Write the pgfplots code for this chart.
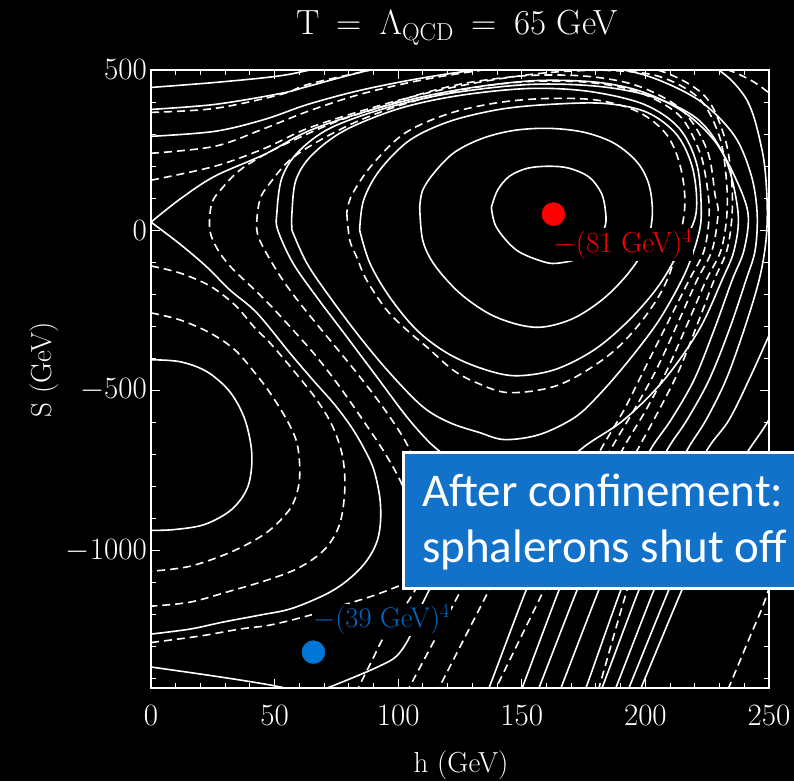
\RequirePackage{fix-cm}
\documentclass[border=0pt]{standalone}
\usepackage{fontspec}
\usepackage{pgfplots}
\pgfplotsset{compat=1.18}
\newfontfamily\carlito{Carlito}
\definecolor{boxblue}{RGB}{18,113,200}
\definecolor{dotblue}{RGB}{0,118,215}
\definecolor{labblue}{RGB}{0,105,200}
\pgfplotsset{
  cl/.style={white, line width=1.6pt, smooth, tension=0.55, no markers},
  cd/.style={cl, dash pattern=on 8pt off 5pt},
}
\begin{document}
\begin{tikzpicture}[x=1pt,y=1pt]
  \fill[black] (0,0) rectangle (794,781);
  \begin{axis}[
      at={(151pt,93pt)}, anchor=south west,
      scale only axis, width=618pt, height=618pt,
      xmin=0, xmax=250, ymin=-1430, ymax=500,
      axis line style={white, line width=1.2pt},
      tick style={white, line width=1pt},
      major tick length=9pt, minor tick length=5pt,
      tick align=inside,
      xtick={0,50,...,250}, ytick={-1500,-1000,-500,0,500},
      minor x tick num=4, minor y tick num=4,
      scaled ticks=false,
      /pgf/number format/1000 sep={},
      ticklabel style={white, font=\fontsize{31}{36}\selectfont},
      xticklabel style={inner sep=0pt, yshift=-17pt},
      yticklabel style={inner sep=0pt, xshift=-4pt},
    ]
    % closed loops round the red minimum
    \addplot[cl] coordinates {(137.7,71.6)(139.7,9.3)(147.8,-62.3)(159.1,-99.7)(165.2,-102.8)(173.3,-87.2)(180.5,-40.5)(183.8,15.6)(183.8,62.3)(182.2,115.3)(177.3,165.1)(169.2,193.1)(161.2,199.4)(152.3,193.1)(145,168.2)(140.2,124.6)(137.7,71.6)};
    \addplot[cl] coordinates {(108.7,71.6)(109.9,-31.2)(114.7,-109)(124.8,-196.2)(136.9,-261.7)(149,-295.9)(159.1,-302.2)(171.3,-274.1)(183.4,-211.8)(193.5,-130.8)(200.3,-46.7)(202.8,46.7)(201.5,140.2)(196.7,211.8)(187.4,271)(175.3,305.3)(161.2,317.7)(147,311.5)(134.1,286.6)(122.8,243)(114.7,180.7)(109.9,124.6)(108.7,71.6)};
    \addplot[cl] coordinates {(84.4,0)(88.5,-102.8)(96.5,-208.7)(107.4,-311.5)(119.6,-383.2)(132.9,-429.9)(147,-454.8)(163.2,-436.1)(179.3,-373.8)(193.5,-280.4)(205.6,-171.3)(214.9,-46.7)(220.5,53)(219.3,186.9)(212.9,295.9)(200.7,367.6)(183.4,395.6)(161.2,392.5)(141,376.9)(120.8,339.5)(104.6,280.4)(92.5,186.9)(86,93.5)(84.4,0)};
    \addplot[cd] coordinates {(79.2,53)(80.4,-31.2)(83.2,-84.1)(87.2,-155.8)(95.3,-249.2)(103.4,-311.5)(111.5,-364.5)(122,-436.1)(131.7,-476.6)(145,-507.7)(165.2,-482.8)(185.4,-389.4)(199.5,-274.1)(209.6,-140.2)(215.7,53)(214.5,186.9)(208.8,295.9)(197.5,367.6)(181.3,405)(161.2,411.2)(141,398.7)(120.8,364.5)(102.6,302.2)(89.3,202.5)(81.2,109)(79.2,53)};
    \addplot[cl] coordinates {(57,0)(63,-102.8)(72.3,-208.7)(84.4,-333.3)(96.5,-445.5)(109.9,-551.4)(120.8,-601.2)(132.9,-632.3)(143,-654.2)(157.1,-638.6)(171.3,-585.6)(181.3,-514)(193.5,-405)(205.6,-280.4)(215.7,-140.2)(220.9,-31.2)(222.6,53)(220.9,202.5)(213.7,317.7)(199.5,392.5)(177.3,433)(153.1,442.3)(124.8,420.5)(100.6,380)(78.4,311.5)(65,233.6)(58.6,155.8)(57,53)(57,0)};
    % separatrix through the saddle at h = 0
    \addplot[cl] coordinates {(0,24.9)(11.7,-43.6)(22.6,-115.3)(31.9,-186.9)(42.8,-258.5)(56.1,-383.2)(65.4,-467.3)(74.3,-545.1)(81.2,-616.8)(86.4,-685.3)(90.1,-747.6)(92.5,-831.7)(92.9,-903.4)(91.7,-965.7)(88.5,-1018.6)(83.6,-1065.3)(76.3,-1112.1)(68.3,-1146.3)(56.1,-1183.7)(44,-1202.4)(29.1,-1224.2)(15.8,-1246)(0,-1261.6)};
    \addplot[cl] coordinates {(0,24.9)(11.7,96.6)(25.8,168.2)(46,236.7)(63.4,308.4)(84.4,364.5)(108.6,414.3)(132.9,448.6)(157.1,467.3)(181.3,461)(199.5,429.9)(215.7,367.6)(227.8,280.4)(235.9,171.3)(241.5,53)(239.9,-62.3)(235.1,-155.8)(227.8,-311.5)(219.7,-467.3)(210.4,-591.9)(202.8,-676)(195.5,-778.8)(188.2,-872.2)};
    % left bowl and the dashed lines round it
    \addplot[cl] coordinates {(0,-405)(11.7,-411)(22.6,-442)(31.9,-505)(38,-592)(40.8,-701)(39.2,-801)(32.7,-872)(21.8,-919)(9.7,-935)(0,-938)};
    \addplot[cd] coordinates {(0,-258.5)(11.7,-280.4)(23.8,-320.8)(33.9,-373.8)(42,-445.5)(48.1,-507.7)(54.9,-591.9)(59,-663.5)(60.2,-747.6)(59.4,-809.9)(56.1,-872.2)(46.9,-943.8)(33.1,-1003)(15.8,-1049.8)(0,-1065.3)};
    \addplot[cd] coordinates {(0,-112.1)(11.7,-134)(23.8,-174.4)(33.9,-233.6)(42,-305.3)(48.1,-352)(57.4,-436.1)(67,-529.6)(73.5,-613.7)(77.5,-707.1)(78.4,-809.9)(76.3,-918.9)(70.3,-996.8)(60.2,-1053)(48.1,-1090.3)(31.9,-1127.6)(15.8,-1161.9)(0,-1174.4)};
    % open lines round the red basin
    \addplot[cd] coordinates {(105.4,-872.2)(100.6,-778.8)(93.7,-685.3)(85.6,-591.9)(76.3,-489)(67,-395.6)(57.4,-311.5)(48.1,-233.6)(42,-186.9)(32.7,-118.4)(27.1,-62.3)(23.8,0)(24.6,84.1)(29.1,133.9)(35.9,186.9)(46.9,239.9)(60.2,289.7)(76.3,342.7)(92.5,383.1)(109.9,426.8)(128.8,461)(153.1,482.8)(177.3,479.7)(197.5,448.6)(214.9,373.8)(225,249.2)(228.2,109)(229.4,53)(227,-62.3)(220.9,-155.8)(213.7,-280.4)(204.4,-436.1)(195.5,-560.7)(186.6,-676)(179.3,-778.8)(173.3,-872.2)};
    \addplot[cd] coordinates {(114.7,-903.4)(110.7,-809.9)(105.8,-707.1)(101.8,-644.8)(93.7,-551.4)(83.2,-445.5)(72.3,-342.7)(61.4,-239.9)(53.3,-155.8)(46,-62.3)(42.8,0)(44,93.5)(48.1,146.4)(56.1,218.1)(68.3,280.4)(84.4,342.7)(104.6,398.7)(128.8,442.3)(153.1,464.1)(177.3,461)(197.5,429.9)(213.7,358.2)(221.7,249.2)(224.6,155.8)(225.8,53)(223.8,-62.3)(217.7,-155.8)(209.6,-280.4)(199.5,-436.1)(191.4,-560.7)(182.6,-676)(175.3,-778.8)(169.2,-872.2)};
    \addplot[cl] coordinates {(128.8,-778.8)(120.8,-716.5)(112.7,-663.5)(103.4,-582.5)(91.3,-457.9)(79.2,-333.3)(67,-208.7)(57.4,-102.8)(51.3,0)(50.9,53)(52.9,162)(59.4,243)(72.3,317.7)(94.5,380)(120.8,426.8)(153.1,454.8)(181.3,448.6)(203.6,414.3)(221.7,342.7)(232.6,218.1)(237.5,53)(235.9,-62.3)(231,-155.8)(221.7,-311.5)(207.6,-467.3)(191.4,-591.9)(175.3,-676)(163.2,-763.2)(153.1,-872.2)};
    \addplot[cd] coordinates {(0,155.8)(25.8,199.4)(46,255.4)(63.4,317.7)(88.5,380)(112.7,429.9)(136.9,467.3)(161.2,492.2)(185.4,498.4)(205.6,479.7)(221.7,411.2)(229.8,295.9)(232.6,171.3)(233,53)(230.6,-62.3)(224.6,-155.8)(217.7,-280.4)(208.8,-436.1)(200.3,-560.7)(191.4,-676)(184.6,-778.8)(178.5,-872.2)};
    \addplot[cd] coordinates {(0,239.9)(25.8,261.7)(46,317.7)(63.4,370.7)(84.4,423.6)(108.6,467.3)(132.9,498.4)(157.1,520.2)(181.3,523.3)(205.6,498.4)(223.8,420.5)(231.8,295.9)(234.7,171.3)(235.1,53)(233,-62.3)(227.8,-155.8)(221.7,-280.4)(213.7,-436.1)(205.6,-560.7)(197.5,-676)(190.2,-778.8)(184.2,-872.2)};
    \addplot[cl] coordinates {(0,292.8)(25.8,308.4)(46,345.8)(63.4,392.5)(84.4,436.1)(108.6,473.5)(132.9,501.5)(157.1,517.1)(181.3,510.9)(201.5,479.7)(221.7,405)(235.9,295.9)(242.8,171.3)(245.2,53)(244.4,-62.3)(240.7,-155.8)(233.9,-311.5)(225.8,-467.3)(216.9,-591.9)(209.6,-676)(202.4,-778.8)(195.5,-872.2)};
    \addplot[cl] coordinates {(0,376.9)(25.8,392.5)(52.5,426.8)(63.4,448.6)(84.4,492.2)(108.6,535.8)(141,570)(181.3,576.3)(221.7,529.6)(239.9,420.5)(247.2,249.2)(249.2,93.5)(248.8,-31.2)(246,-155.8)(239.9,-311.5)(232.6,-467.3)(224.6,-591.9)(217.7,-676)(210.4,-778.8)(203.6,-872.2)};
    \addplot[cd] coordinates {(0,367.6)(25.8,380)(52.5,423.6)(63.4,454.8)(84.4,492.2)(108.6,529.6)(141,560.7)(181.3,566.9)(217.7,535.8)(246,451.7)(264.1,280.4)(270.2,-62.3)(268.2,-373.8)(262.1,-685.3)(256.1,-934.5)(249.2,-1137)(241.9,-1277.2)(231.8,-1464)};
    \addplot[cl] coordinates {(0,445.5)(25.8,461)(50.1,479.7)(63.4,498.4)(84.4,535.8)(120.8,591.9)(165.2,623)(213.7,607.4)(254.1,498.4)(264,200)(262.1,-62.3)(256.1,-218.1)(249.2,-342.7)(241.9,-467.3)(233.9,-591.9)(225.8,-676)(218.5,-778.8)(211.6,-872.2)};
    \addplot[cl] coordinates {(275,-100)(266.2,-311.5)(258.1,-467.3)(250,-591.9)(241.9,-685.3)(233.9,-778.8)(226.6,-872.2)};
    % below the box
    \addplot[cl] coordinates {(118.7,-1028)(112.7,-1121.4)(107.8,-1199.3)(104.6,-1270.9)(99.4,-1330.1)(92.5,-1361.3)(80.4,-1401.8)(68.3,-1439.1)};
    \addplot[cd] coordinates {(110.7,-1074.7)(104.6,-1152.6)(98.6,-1221.1)(93.7,-1277.2)(89.7,-1339.5)(83.2,-1439.1)};
    \addplot[cl] coordinates {(157.5,-1028)(151.9,-1121.4)(136.9,-1426.7)(134.9,-1464)};
    \addplot[cl] coordinates {(170.8,-1028)(165.2,-1121.4)(150.3,-1426.7)(148.2,-1464)};
    \addplot[cl] coordinates {(178.1,-1028)(172.5,-1121.4)(157.1,-1426.7)(155.1,-1464)};
    \addplot[cl] coordinates {(187,-1028)(181.3,-1121.4)(166,-1426.7)(164,-1464)};
    \addplot[cl] coordinates {(195.9,-1028)(190.2,-1121.4)(176.1,-1426.7)(174.1,-1464)};
    \addplot[cl] coordinates {(203.2,-1028)(197.5,-1121.4)(182.6,-1426.7)(180.5,-1464)};
    \addplot[cl] coordinates {(209.2,-1028)(203.6,-1121.4)(188.2,-1426.7)(186.2,-1464)};
    \addplot[cl] coordinates {(215.3,-1028)(209.6,-1121.4)(193.5,-1426.7)(191.4,-1464)};
    \addplot[cl] coordinates {(220.5,-1028)(214.9,-1121.4)(198.4,-1426.7)(196.3,-1464)};
    \addplot[cd] coordinates {(131.3,-1028)(125.6,-1121.4)(104.6,-1426.7)(102.2,-1464)};
    \addplot[cd] coordinates {(142.6,-1028)(136.9,-1121.4)(116.7,-1426.7)(114.3,-1464)};
    \addplot[cd] coordinates {(164.8,-1028)(159.1,-1121.4)(139.8,-1426.7)(137.4,-1464)};
    \addplot[cd] coordinates {(197.5,-1028)(192.7,-1121.4)(181.3,-1426.7)(179.7,-1464)};
    % round the blue minimum
    \addplot[cd] coordinates {(0,-1288)(19.8,-1267.8)(35.9,-1246)(48.1,-1233.5)(63,-1205.5)(76.3,-1174.4)(90.5,-1140.1)(104.6,-1096.5)(116.7,-1043.5)};
    \addplot[cl] coordinates {(0,-1364.4)(19.8,-1386.2)(35.9,-1404.9)(48.1,-1420.5)(56.1,-1433)};
    % minima
    \addplot[only marks, mark=*, mark size=11.5pt, red] coordinates {(162.8,50)};
    \addplot[only marks, mark=*, mark size=11.5pt, dotblue] coordinates {(65.7,-1318)};
  \end{axis}
  \node[fill=black, inner sep=1pt, anchor=base west, text=red, font=\fontsize{29}{34}\selectfont] at (552,528) {$-$(81 GeV)$^4$};
  \node[fill=black, inner sep=1pt, anchor=base west, text=labblue, font=\fontsize{28.5}{34}\selectfont] at (312,153) {$-$(39 GeV)$^4$};
  \node[anchor=base, text=white, font=\fontsize{35}{42}\selectfont] at (457,746) {T\enspace=\enspace$\Lambda_{\mathrm{QCD}}$\enspace=\enspace65 GeV};
  \node[anchor=base, text=white, font=\fontsize{29}{34}\selectfont] at (461,9) {h (GeV)};
  \node[anchor=base, rotate=90, text=white, font=\fontsize{29}{34}\selectfont] at (51,411) {S (GeV)};
  \filldraw[fill=boxblue, draw=white, line width=3pt] (403.5,192.5) rectangle (840,328.5);
  \node[anchor=base west, text=white, inner sep=0pt, font=\carlito\fontsize{47}{56}\selectfont] at (422,274) {After confinement:};
  \node[anchor=base west, text=white, inner sep=0pt, font=\carlito\fontsize{47}{56}\selectfont] at (422,218) {sphalerons shut off};
  \pgfresetboundingbox
  \path[use as bounding box] (0,0) rectangle (794,781);
\end{tikzpicture}
\end{document}
